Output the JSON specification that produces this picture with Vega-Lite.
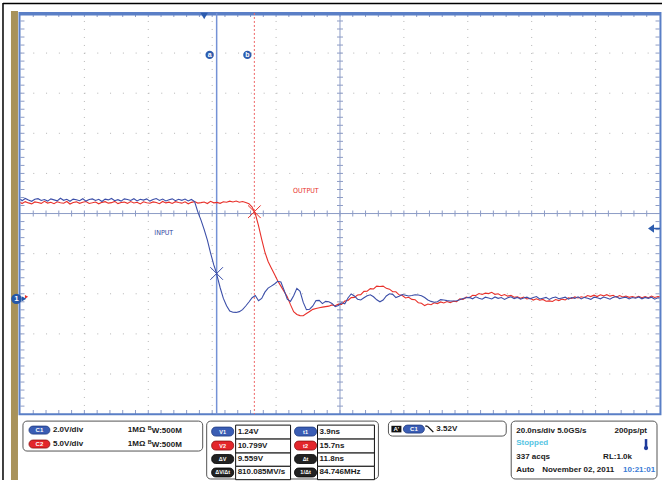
{
"$schema": "https://vega.github.io/schema/vega-lite/v6.json",
"width": 663, "height": 481, "padding": 0,
"autosize": {"type": "fit", "contains": "padding"},
"background": "#ffffff",
"config": {"view": {"stroke": null}, "axis": {"disable": true}},
"datasets": {
"grid": [{"i":0,"t":-57.5,"d":-5},{"i":1,"t":-53.5,"d":-4.8},{"i":2,"t":-49.5,"d":-4.6},{"i":3,"t":-45.5,"d":-4.4},{"i":4,"t":-41.5,"d":-4.2},{"i":5,"t":-37.5,"d":-4},{"i":6,"t":-33.5,"d":-3.8},{"i":7,"t":-29.5,"d":-3.6},{"i":8,"t":-25.5,"d":-3.4},{"i":9,"t":-21.5,"d":-3.2},{"i":10,"t":-17.5,"d":-3},{"i":11,"t":-13.5,"d":-2.8},{"i":12,"t":-9.5,"d":-2.6},{"i":13,"t":-5.5,"d":-2.4},{"i":14,"t":-1.5,"d":-2.2},{"i":15,"t":2.5,"d":-2},{"i":16,"t":6.5,"d":-1.8},{"i":17,"t":10.5,"d":-1.6},{"i":18,"t":14.5,"d":-1.4},{"i":19,"t":18.5,"d":-1.2},{"i":20,"t":22.5,"d":-1},{"i":21,"t":26.5,"d":-0.8},{"i":22,"t":30.5,"d":-0.6},{"i":23,"t":34.5,"d":-0.4},{"i":24,"t":38.5,"d":-0.2},{"i":25,"t":42.5,"d":0},{"i":26,"t":46.5,"d":0.2},{"i":27,"t":50.5,"d":0.4},{"i":28,"t":54.5,"d":0.6},{"i":29,"t":58.5,"d":0.8},{"i":30,"t":62.5,"d":1},{"i":31,"t":66.5,"d":1.2},{"i":32,"t":70.5,"d":1.4},{"i":33,"t":74.5,"d":1.6},{"i":34,"t":78.5,"d":1.8},{"i":35,"t":82.5,"d":2},{"i":36,"t":86.5,"d":2.2},{"i":37,"t":90.5,"d":2.4},{"i":38,"t":94.5,"d":2.6},{"i":39,"t":98.5,"d":2.8},{"i":40,"t":102.5,"d":3},{"i":41,"t":106.5,"d":3.2},{"i":42,"t":110.5,"d":3.4},{"i":43,"t":114.5,"d":3.6},{"i":44,"t":118.5,"d":3.8},{"i":45,"t":122.5,"d":4},{"i":46,"t":126.5,"d":4.2},{"i":47,"t":130.5,"d":4.4},{"i":48,"t":134.5,"d":4.6},{"i":49,"t":138.5,"d":4.8},{"i":50,"t":142.5,"d":5}],
"ch1": [{"t":-57.5,"v":4.95},{"t":-57,"v":4.87},{"t":-56,"v":4.98},{"t":-55,"v":4.90},{"t":-54,"v":4.84},{"t":-53,"v":4.94},{"t":-52,"v":4.97},{"t":-51,"v":4.88},{"t":-50,"v":4.93},{"t":-49,"v":4.85},{"t":-48,"v":4.96},{"t":-47,"v":4.91},{"t":-46,"v":4.86},{"t":-45,"v":4.99},{"t":-44,"v":4.89},{"t":-43,"v":4.94},{"t":-42,"v":4.84},{"t":-41,"v":4.95},{"t":-40,"v":4.92},{"t":-39,"v":4.87},{"t":-38,"v":4.97},{"t":-37,"v":4.85},{"t":-36,"v":4.93},{"t":-35,"v":4.96},{"t":-34,"v":4.88},{"t":-33,"v":4.94},{"t":-32,"v":4.83},{"t":-31,"v":4.95},{"t":-30,"v":4.91},{"t":-29,"v":4.98},{"t":-28,"v":4.87},{"t":-27,"v":4.92},{"t":-26,"v":4.85},{"t":-25,"v":4.96},{"t":-24,"v":4.93},{"t":-23,"v":4.88},{"t":-22,"v":4.97},{"t":-21,"v":4.86},{"t":-20,"v":4.94},{"t":-19,"v":4.90},{"t":-18,"v":4.96},{"t":-17,"v":4.85},{"t":-16,"v":4.93},{"t":-15,"v":4.98},{"t":-14,"v":4.88},{"t":-13,"v":4.95},{"t":-12,"v":4.86},{"t":-11,"v":4.92},{"t":-10,"v":4.96},{"t":-9,"v":4.87},{"t":-8,"v":4.94},{"t":-7,"v":4.89},{"t":-6,"v":4.95},{"t":-5,"v":4.86},{"t":-4,"v":4.93},{"t":-3,"v":4.83},{"t":-2,"v":4.31},{"t":-1,"v":3.90},{"t":0,"v":3.43},{"t":1,"v":2.90},{"t":2,"v":2.26},{"t":3,"v":1.67},{"t":3.9,"v":1.24},{"t":4,"v":1.15},{"t":5,"v":0.53},{"t":6,"v":0.0},{"t":7,"v":-0.37},{"t":8,"v":-0.63},{"t":9,"v":-0.69},{"t":10,"v":-0.70},{"t":11,"v":-0.66},{"t":12,"v":-0.56},{"t":13,"v":-0.38},{"t":14,"v":-0.18},{"t":15,"v":0.03},{"t":16,"v":0.14},{"t":17,"v":-0.12},{"t":18,"v":0.0},{"t":19,"v":0.31},{"t":20,"v":0.51},{"t":21,"v":0.61},{"t":22,"v":0.72},{"t":23,"v":0.85},{"t":24,"v":0.82},{"t":25,"v":0.41},{"t":26,"v":-0.04},{"t":27,"v":-0.15},{"t":28,"v":0.13},{"t":29,"v":0.50},{"t":30,"v":0.35},{"t":31,"v":-0.20},{"t":32,"v":-0.56},{"t":33,"v":-0.54},{"t":34,"v":-0.38},{"t":35,"v":-0.11},{"t":36,"v":-0.10},{"t":37,"v":-0.26},{"t":38,"v":-0.15},{"t":39,"v":-0.17},{"t":40,"v":-0.25},{"t":41,"v":-0.41},{"t":42,"v":-0.35},{"t":43,"v":-0.22},{"t":44,"v":-0.27},{"t":45,"v":0.02},{"t":46,"v":0.22},{"t":47,"v":0.12},{"t":48,"v":-0.04},{"t":49,"v":-0.08},{"t":50,"v":0.03},{"t":51,"v":0.13},{"t":52,"v":0.18},{"t":53,"v":0.08},{"t":54,"v":-0.07},{"t":55,"v":-0.17},{"t":56,"v":-0.08},{"t":57,"v":0.12},{"t":58,"v":0.23},{"t":59,"v":0.20},{"t":60,"v":0.04},{"t":61,"v":0.11},{"t":62,"v":0.19},{"t":63,"v":0.16},{"t":64,"v":0.12},{"t":65,"v":0.14},{"t":66,"v":0.18},{"t":67,"v":0.17},{"t":68,"v":0.13},{"t":69,"v":0.04},{"t":70,"v":-0.08},{"t":71,"v":-0.15},{"t":72,"v":-0.19},{"t":73,"v":-0.17},{"t":74,"v":-0.06},{"t":75,"v":-0.08},{"t":76,"v":-0.11},{"t":77,"v":-0.13},{"t":78,"v":-0.13},{"t":79,"v":-0.12},{"t":80,"v":-0.07},{"t":81,"v":-0.01},{"t":82,"v":0.03},{"t":83,"v":0.05},{"t":84,"v":-0.02},{"t":85,"v":0.08},{"t":86,"v":0.01},{"t":87,"v":-0.04},{"t":88,"v":0.06},{"t":89,"v":0.02},{"t":90,"v":-0.03},{"t":91,"v":0.07},{"t":92,"v":0.00},{"t":93,"v":0.04},{"t":94,"v":-0.05},{"t":95,"v":0.03},{"t":96,"v":0.08},{"t":97,"v":-0.01},{"t":98,"v":0.05},{"t":99,"v":-0.04},{"t":100,"v":0.02},{"t":101,"v":0.06},{"t":102,"v":-0.02},{"t":103,"v":0.04},{"t":104,"v":0.09},{"t":105,"v":-0.03},{"t":106,"v":0.01},{"t":107,"v":0.05},{"t":108,"v":-0.05},{"t":109,"v":0.03},{"t":110,"v":0.07},{"t":111,"v":-0.02},{"t":112,"v":0.02},{"t":113,"v":0.06},{"t":114,"v":-0.04},{"t":115,"v":0.04},{"t":116,"v":0.00},{"t":117,"v":0.08},{"t":118,"v":-0.03},{"t":119,"v":0.05},{"t":120,"v":0.01},{"t":121,"v":-0.05},{"t":122,"v":0.06},{"t":123,"v":0.03},{"t":124,"v":-0.02},{"t":125,"v":0.07},{"t":126,"v":0.02},{"t":127,"v":-0.04},{"t":128,"v":0.05},{"t":129,"v":0.09},{"t":130,"v":-0.01},{"t":131,"v":0.03},{"t":132,"v":0.06},{"t":133,"v":-0.03},{"t":134,"v":0.04},{"t":135,"v":0.01},{"t":136,"v":0.07},{"t":137,"v":-0.02},{"t":138,"v":0.05},{"t":139,"v":0.00},{"t":140,"v":0.06},{"t":141,"v":-0.04},{"t":142,"v":0.03},{"t":142.5,"v":0.02}],
"ch2": [{"t":-57.5,"v":11.94},{"t":-57,"v":11.82},{"t":-56,"v":12.06},{"t":-55,"v":11.90},{"t":-54,"v":11.78},{"t":-53,"v":12.02},{"t":-52,"v":11.96},{"t":-51,"v":11.84},{"t":-50,"v":12.10},{"t":-49,"v":11.88},{"t":-48,"v":11.98},{"t":-47,"v":11.80},{"t":-46,"v":12.04},{"t":-45,"v":11.92},{"t":-44,"v":11.86},{"t":-43,"v":12.08},{"t":-42,"v":11.76},{"t":-41,"v":11.95},{"t":-40,"v":12.03},{"t":-39,"v":11.85},{"t":-38,"v":11.99},{"t":-37,"v":12.07},{"t":-36,"v":11.83},{"t":-35,"v":11.91},{"t":-34,"v":12.01},{"t":-33,"v":11.79},{"t":-32,"v":11.97},{"t":-31,"v":12.05},{"t":-30,"v":11.87},{"t":-29,"v":11.93},{"t":-28,"v":12.09},{"t":-27,"v":11.81},{"t":-26,"v":11.96},{"t":-25,"v":12.00},{"t":-24,"v":11.84},{"t":-23,"v":12.06},{"t":-22,"v":11.89},{"t":-21,"v":11.98},{"t":-20,"v":11.77},{"t":-19,"v":12.04},{"t":-18,"v":11.92},{"t":-17,"v":11.86},{"t":-16,"v":12.02},{"t":-15,"v":11.95},{"t":-14,"v":11.80},{"t":-13,"v":12.08},{"t":-12,"v":11.90},{"t":-11,"v":11.99},{"t":-10,"v":11.83},{"t":-9,"v":12.05},{"t":-8,"v":11.94},{"t":-7,"v":11.87},{"t":-6,"v":12.03},{"t":-5,"v":11.79},{"t":-4,"v":11.97},{"t":-3,"v":12.06},{"t":-2,"v":11.88},{"t":-1,"v":11.93},{"t":0,"v":12.01},{"t":1,"v":11.82},{"t":2,"v":12.10},{"t":3,"v":11.91},{"t":4,"v":11.96},{"t":5,"v":11.85},{"t":6,"v":12.04},{"t":7,"v":11.98},{"t":8,"v":12.12},{"t":9,"v":12.02},{"t":10,"v":12.14},{"t":11,"v":11.99},{"t":12,"v":12.08},{"t":13,"v":11.95},{"t":14,"v":11.80},{"t":15,"v":11.38},{"t":15.7,"v":10.80},{"t":16,"v":10.55},{"t":17,"v":9.08},{"t":18,"v":7.35},{"t":19,"v":5.77},{"t":20,"v":4.59},{"t":21,"v":3.79},{"t":22,"v":3.00},{"t":23,"v":2.20},{"t":24,"v":1.53},{"t":25,"v":0.87},{"t":26,"v":0.21},{"t":27,"v":-0.78},{"t":28,"v":-1.67},{"t":29,"v":-2.00},{"t":30,"v":-2.15},{"t":31,"v":-2.16},{"t":32,"v":-1.89},{"t":33,"v":-1.63},{"t":34,"v":-1.37},{"t":35,"v":-1.27},{"t":36,"v":-1.17},{"t":37,"v":-1.09},{"t":38,"v":-1.03},{"t":39,"v":-0.97},{"t":40,"v":-0.81},{"t":41,"v":-0.92},{"t":42,"v":-0.72},{"t":43,"v":-0.74},{"t":44,"v":-0.33},{"t":45,"v":-0.26},{"t":46,"v":0.09},{"t":47,"v":0.12},{"t":48,"v":0.42},{"t":49,"v":0.47},{"t":50,"v":0.87},{"t":51,"v":0.89},{"t":52,"v":1.21},{"t":53,"v":1.17},{"t":54,"v":1.52},{"t":55,"v":1.48},{"t":56,"v":1.53},{"t":57,"v":1.25},{"t":58,"v":1.15},{"t":59,"v":0.82},{"t":60,"v":0.82},{"t":61,"v":0.44},{"t":62,"v":0.36},{"t":63,"v":0.05},{"t":64,"v":0.13},{"t":65,"v":-0.13},{"t":66,"v":-0.16},{"t":67,"v":-0.54},{"t":68,"v":-0.60},{"t":69,"v":-0.90},{"t":70,"v":-0.71},{"t":71,"v":-0.79},{"t":72,"v":-0.55},{"t":73,"v":-0.65},{"t":74,"v":-0.44},{"t":75,"v":-0.57},{"t":76,"v":-0.40},{"t":77,"v":-0.52},{"t":78,"v":-0.36},{"t":79,"v":-0.41},{"t":80,"v":-0.07},{"t":81,"v":-0.12},{"t":82,"v":0.15},{"t":83,"v":0.08},{"t":84,"v":0.39},{"t":85,"v":0.36},{"t":86,"v":0.60},{"t":87,"v":0.49},{"t":88,"v":0.65},{"t":89,"v":0.60},{"t":90,"v":0.76},{"t":91,"v":0.50},{"t":92,"v":0.57},{"t":93,"v":0.33},{"t":94,"v":0.48},{"t":95,"v":0.28},{"t":96,"v":0.37},{"t":97,"v":0.14},{"t":98,"v":0.19},{"t":99,"v":0.01},{"t":100,"v":0.16},{"t":101,"v":-0.07},{"t":102,"v":0.01},{"t":103,"v":-0.21},{"t":104,"v":-0.05},{"t":105,"v":-0.23},{"t":106,"v":-0.13},{"t":107,"v":-0.36},{"t":108,"v":-0.31},{"t":109,"v":-0.39},{"t":110,"v":-0.14},{"t":111,"v":-0.27},{"t":112,"v":-0.09},{"t":113,"v":-0.20},{"t":114,"v":0.06},{"t":115,"v":-0.02},{"t":116,"v":0.18},{"t":117,"v":0.05},{"t":118,"v":0.20},{"t":119,"v":0.11},{"t":120,"v":0.36},{"t":121,"v":0.22},{"t":122,"v":0.40},{"t":123,"v":0.23},{"t":124,"v":0.44},{"t":125,"v":0.31},{"t":126,"v":0.46},{"t":127,"v":0.28},{"t":128,"v":0.38},{"t":129,"v":0.15},{"t":130,"v":0.35},{"t":131,"v":0.17},{"t":132,"v":0.30},{"t":133,"v":0.13},{"t":134,"v":0.24},{"t":135,"v":0.11},{"t":136,"v":0.26},{"t":137,"v":0.08},{"t":138,"v":0.22},{"t":139,"v":0.09},{"t":140,"v":0.29},{"t":141,"v":0.11},{"t":142,"v":0.24},{"t":142.5,"v":0.19}]
},
"resolve": {"scale": {"y": "independent"}},
"layer": [
{
"data": {"values": [{}]},
"layer": [
{"mark": {"type": "rect", "color": "#a8925a"}, "encoding": {"x": {"datum": -60.47, "type": "quantitative", "scale": {"domain": [-63.906, 143.281], "nice": false, "zero": false}}, "x2": {"datum": -58.28}, "y": {"datum": 5.05, "type": "quantitative", "scale": {"domain": [-6.642, 5.323], "nice": false, "zero": false}}, "y2": {"datum": -6.642}}},
{"mark": {"type": "rule", "color": "#000000", "strokeWidth": 1.5}, "encoding": {"x": {"datum": -62.97}, "y": {"datum": 5.25}, "y2": {"datum": -6.642}}},
{"mark": {"type": "rule", "color": "#000000", "strokeWidth": 1.5}, "encoding": {"x": {"datum": -62.97}, "x2": {"datum": 143.281}, "y": {"datum": 5.237}}},
{"data": {"name": "grid"}, "transform": [{"filter": "datum.i % 5 == 0 && datum.i > 0 && datum.i < 50 && datum.i != 25"}], "mark": {"type": "rule", "color": "#b5b5b5", "strokeWidth": 1, "strokeDash": [1, 7]}, "encoding": {"x": {"field": "t", "type": "quantitative"}, "y": {"datum": 5}, "y2": {"datum": -5}}},
{"data": {"name": "grid"}, "transform": [{"filter": "datum.i % 5 == 0 && datum.i > 0 && datum.i < 50 && datum.i != 25"}], "mark": {"type": "rule", "color": "#b5b5b5", "strokeWidth": 1, "strokeDash": [1, 11.8]}, "encoding": {"y": {"field": "d", "type": "quantitative"}, "x": {"datum": -57.5}, "x2": {"datum": 142.5}}},
{"mark": {"type": "rule", "color": "#8d9cc6", "strokeWidth": 1}, "encoding": {"x": {"datum": 42.5}, "y": {"datum": 5}, "y2": {"datum": -5}}},
{"mark": {"type": "rule", "color": "#8d9cc6", "strokeWidth": 1}, "encoding": {"y": {"datum": 0}, "x": {"datum": -57.5}, "x2": {"datum": 142.5}}},
{"data": {"name": "grid"}, "transform": [{"filter": "datum.i > 0 && datum.i < 50"}], "mark": {"type": "tick", "orient": "vertical", "size": 6, "thickness": 1, "color": "#8d9cc6", "opacity": 1}, "encoding": {"x": {"field": "t", "type": "quantitative"}, "y": {"datum": 0}}},
{"data": {"name": "grid"}, "transform": [{"filter": "datum.i > 0 && datum.i < 50"}], "mark": {"type": "tick", "orient": "horizontal", "size": 6, "thickness": 1, "color": "#8d9cc6", "opacity": 1}, "encoding": {"y": {"field": "d", "type": "quantitative"}, "x": {"datum": 42.5}}},
{"data": {"name": "grid"}, "transform": [{"filter": "datum.i > 0 && datum.i < 50"}], "mark": {"type": "tick", "orient": "vertical", "size": 4, "thickness": 1, "color": "#8d9cc6", "opacity": 1}, "encoding": {"x": {"field": "t", "type": "quantitative"}, "y": {"datum": 4.95}}},
{"data": {"name": "grid"}, "transform": [{"filter": "datum.i > 0 && datum.i < 50"}], "mark": {"type": "tick", "orient": "vertical", "size": 4, "thickness": 1, "color": "#8d9cc6", "opacity": 1}, "encoding": {"x": {"field": "t", "type": "quantitative"}, "y": {"datum": -4.95}}},
{"data": {"name": "grid"}, "transform": [{"filter": "datum.i > 0 && datum.i < 50"}], "mark": {"type": "tick", "orient": "horizontal", "size": 4, "thickness": 1, "color": "#8d9cc6", "opacity": 1}, "encoding": {"y": {"field": "d", "type": "quantitative"}, "x": {"datum": -56.875}}},
{"data": {"name": "grid"}, "transform": [{"filter": "datum.i > 0 && datum.i < 50"}], "mark": {"type": "tick", "orient": "horizontal", "size": 4, "thickness": 1, "color": "#8d9cc6", "opacity": 1}, "encoding": {"y": {"field": "d", "type": "quantitative"}, "x": {"datum": 141.875}}},
{"mark": {"type": "rect", "fillOpacity": 0, "stroke": "#5a7fc6", "strokeWidth": 2}, "encoding": {"x": {"datum": -57.8}, "x2": {"datum": 142.8}, "y": {"datum": 5.0}, "y2": {"datum": -5.0}}},
{"mark": {"type": "rule", "color": "#5a7fc6", "strokeWidth": 3}, "encoding": {"y": {"datum": 4.975}, "x": {"datum": -57.8}, "x2": {"datum": 142.8}}},
{"mark": {"type": "rule", "color": "#7592d6", "strokeWidth": 1.5}, "encoding": {"x": {"datum": 3.9}, "y": {"datum": 5}, "y2": {"datum": -5}}},
{"mark": {"type": "rule", "color": "#ee6666", "strokeWidth": 1, "strokeDash": [2, 2]}, "encoding": {"x": {"datum": 15.7}, "y": {"datum": 5}, "y2": {"datum": -5}}},
{"mark": {"type": "point", "shape": "circle", "filled": true, "color": "#2d5cae", "size": 70, "opacity": 1, "xOffset": -7}, "encoding": {"x": {"datum": 3.9}, "y": {"datum": 3.955}}},
{"mark": {"type": "point", "shape": "circle", "filled": true, "color": "#2d5cae", "size": 70, "opacity": 1, "xOffset": -7}, "encoding": {"x": {"datum": 15.7}, "y": {"datum": 3.955}}},
{"mark": {"type": "text", "text": "a", "color": "#ffffff", "font": "Liberation Sans", "fontWeight": "bold", "fontSize": 7, "align": "center", "baseline": "middle", "xOffset": -7}, "encoding": {"x": {"datum": 3.9}, "y": {"datum": 3.955}}},
{"mark": {"type": "text", "text": "b", "color": "#ffffff", "font": "Liberation Sans", "fontWeight": "bold", "fontSize": 7, "align": "center", "baseline": "middle", "xOffset": -7}, "encoding": {"x": {"datum": 15.7}, "y": {"datum": 3.955}}},
{"mark": {"type": "point", "shape": "triangle-down", "filled": true, "color": "#2d5cae", "size": 55, "opacity": 1}, "encoding": {"x": {"datum": 0}, "y": {"datum": 4.925}}},
{"mark": {"type": "point", "shape": "M-1,0L0,-0.7L0,0.7Z M0,-0.12L1,-0.12L1,0.12L0,0.12Z", "filled": true, "color": "#2d5cae", "size": 144, "opacity": 1}, "encoding": {"x": {"datum": 140.78}, "y": {"datum": -0.373}}},
{"mark": {"type": "point", "shape": "triangle-right", "filled": true, "color": "#e8302a", "size": 14, "opacity": 1}, "encoding": {"x": {"datum": -55.6}, "y": {"datum": -2.077}}},
{"mark": {"type": "point", "shape": "triangle-right", "filled": true, "color": "#2557a8", "size": 30, "opacity": 1}, "encoding": {"x": {"datum": -56.4}, "y": {"datum": -2.127}}},
{"mark": {"type": "point", "shape": "circle", "filled": true, "color": "#2557a8", "size": 110, "opacity": 1}, "encoding": {"x": {"datum": -58.75}, "y": {"datum": -2.127}}},
{"mark": {"type": "text", "text": "1", "color": "#ffffff", "font": "Liberation Sans", "fontWeight": "bold", "fontSize": 8, "align": "center", "baseline": "middle"}, "encoding": {"x": {"datum": -58.75}, "y": {"datum": -2.127}}},
{"mark": {"type": "text", "text": "OUTPUT", "color": "#e8302a", "font": "DejaVu Sans Condensed, Liberation Sans", "fontSize": 7, "align": "center", "baseline": "middle"}, "encoding": {"x": {"datum": 31.8}, "y": {"datum": 0.572}}},
{"mark": {"type": "text", "text": "INPUT", "color": "#2f45a0", "font": "DejaVu Sans Condensed, Liberation Sans", "fontSize": 7, "align": "center", "baseline": "middle"}, "encoding": {"x": {"datum": -12.66}, "y": {"datum": -0.473}}},

{"mark": {"type": "rect", "fill": "#ffffff", "stroke": "#555555", "strokeWidth": 1, "cornerRadius": 4}, "encoding": {"x": {"datum": -56.72}, "x2": {"datum": -0.47}, "y": {"datum": -5.174}, "y2": {"datum": -5.920}}},
{"mark": {"type": "rect", "fill": "#ffffff", "stroke": "#555555", "strokeWidth": 1, "cornerRadius": 4}, "encoding": {"x": {"datum": 0.78}, "x2": {"datum": 54.53}, "y": {"datum": -5.174}, "y2": {"datum": -6.617}}},
{"mark": {"type": "rect", "fill": "#ffffff", "stroke": "#555555", "strokeWidth": 1, "cornerRadius": 4}, "encoding": {"x": {"datum": 57.66}, "x2": {"datum": 94.53}, "y": {"datum": -5.174}, "y2": {"datum": -5.547}}},
{"mark": {"type": "rect", "fill": "#ffffff", "stroke": "#555555", "strokeWidth": 1, "cornerRadius": 4}, "encoding": {"x": {"datum": 96.09}, "x2": {"datum": 141.72}, "y": {"datum": -5.174}, "y2": {"datum": -6.617}}},

{"mark": {"type": "rect", "fill": "#3a5db4", "stroke": "#1e3a80", "strokeWidth": 0.8, "cornerRadius": 4}, "encoding": {"x": {"datum": -54.84}, "x2": {"datum": -48.28}, "y": {"datum": -5.298}, "y2": {"datum": -5.498}}},
{"mark": {"type": "rect", "fill": "#e3262b", "stroke": "#8a1010", "strokeWidth": 0.8, "cornerRadius": 4}, "encoding": {"x": {"datum": -54.84}, "x2": {"datum": -48.28}, "y": {"datum": -5.646}, "y2": {"datum": -5.846}}},
{"mark": {"type": "text", "text": "C1", "color": "#ffffff", "font": "Liberation Sans", "fontWeight": "bold", "fontSize": 6, "align": "center", "baseline": "middle"}, "encoding": {"x": {"datum": -51.56}, "y": {"datum": -5.398}}},
{"mark": {"type": "text", "text": "C2", "color": "#ffffff", "font": "Liberation Sans", "fontWeight": "bold", "fontSize": 6, "align": "center", "baseline": "middle"}, "encoding": {"x": {"datum": -51.56}, "y": {"datum": -5.746}}},
{"mark": {"type": "text", "text": "2.0V/div", "color": "#1a1a1a", "font": "Liberation Sans", "fontWeight": "bold", "fontSize": 8, "align": "left", "baseline": "middle"}, "encoding": {"x": {"datum": -47.34}, "y": {"datum": -5.398}}},
{"mark": {"type": "text", "text": "5.0V/div", "color": "#1a1a1a", "font": "Liberation Sans", "fontWeight": "bold", "fontSize": 8, "align": "left", "baseline": "middle"}, "encoding": {"x": {"datum": -47.34}, "y": {"datum": -5.746}}},
{"mark": {"type": "text", "text": "1MΩ", "color": "#1a1a1a", "font": "Liberation Sans", "fontWeight": "bold", "fontSize": 8, "align": "left", "baseline": "middle"}, "encoding": {"x": {"datum": -23.9}, "y": {"datum": -5.398}}},
{"mark": {"type": "text", "text": "1MΩ", "color": "#1a1a1a", "font": "Liberation Sans", "fontWeight": "bold", "fontSize": 8, "align": "left", "baseline": "middle"}, "encoding": {"x": {"datum": -23.9}, "y": {"datum": -5.746}}},
{"mark": {"type": "text", "text": "B", "color": "#1a1a1a", "font": "Liberation Sans", "fontWeight": "bold", "fontSize": 5.5, "align": "left", "baseline": "middle", "dy": -2}, "encoding": {"x": {"datum": -17.66}, "y": {"datum": -5.398}}},
{"mark": {"type": "text", "text": "B", "color": "#1a1a1a", "font": "Liberation Sans", "fontWeight": "bold", "fontSize": 5.5, "align": "left", "baseline": "middle", "dy": -2}, "encoding": {"x": {"datum": -17.66}, "y": {"datum": -5.746}}},
{"mark": {"type": "text", "text": "W:500M", "color": "#1a1a1a", "font": "Liberation Sans", "fontWeight": "bold", "fontSize": 8, "align": "left", "baseline": "middle", "dy": 1}, "encoding": {"x": {"datum": -16.4}, "y": {"datum": -5.398}}},
{"mark": {"type": "text", "text": "W:500M", "color": "#1a1a1a", "font": "Liberation Sans", "fontWeight": "bold", "fontSize": 8, "align": "left", "baseline": "middle", "dy": 1}, "encoding": {"x": {"datum": -16.4}, "y": {"datum": -5.746}}},

{"mark": {"type": "rect", "fill": "#3a5db4", "stroke": "#1e3a80", "strokeWidth": 0.8, "cornerRadius": 4}, "encoding": {"x": {"datum": 2.34}, "x2": {"datum": 9.22}, "y": {"datum": -5.323}, "y2": {"datum": -5.547}}},
{"mark": {"type": "rect", "fill": "#e3262b", "stroke": "#8a1010", "strokeWidth": 0.8, "cornerRadius": 4}, "encoding": {"x": {"datum": 2.34}, "x2": {"datum": 9.22}, "y": {"datum": -5.672}, "y2": {"datum": -5.896}}},
{"mark": {"type": "rect", "fill": "#222222", "stroke": "#000000", "strokeWidth": 0.8, "cornerRadius": 4}, "encoding": {"x": {"datum": 2.34}, "x2": {"datum": 9.22}, "y": {"datum": -6.007}, "y2": {"datum": -6.231}}},
{"mark": {"type": "rect", "fill": "#222222", "stroke": "#000000", "strokeWidth": 0.8, "cornerRadius": 4}, "encoding": {"x": {"datum": 2.34}, "x2": {"datum": 9.22}, "y": {"datum": -6.343}, "y2": {"datum": -6.567}}},
{"mark": {"type": "rect", "fill": "#3a5db4", "stroke": "#1e3a80", "strokeWidth": 0.8, "cornerRadius": 4}, "encoding": {"x": {"datum": 28.28}, "x2": {"datum": 35.16}, "y": {"datum": -5.323}, "y2": {"datum": -5.547}}},
{"mark": {"type": "rect", "fill": "#e3262b", "stroke": "#8a1010", "strokeWidth": 0.8, "cornerRadius": 4}, "encoding": {"x": {"datum": 28.28}, "x2": {"datum": 35.16}, "y": {"datum": -5.672}, "y2": {"datum": -5.896}}},
{"mark": {"type": "rect", "fill": "#222222", "stroke": "#000000", "strokeWidth": 0.8, "cornerRadius": 4}, "encoding": {"x": {"datum": 28.28}, "x2": {"datum": 35.16}, "y": {"datum": -6.007}, "y2": {"datum": -6.231}}},
{"mark": {"type": "rect", "fill": "#222222", "stroke": "#000000", "strokeWidth": 0.8, "cornerRadius": 4}, "encoding": {"x": {"datum": 28.28}, "x2": {"datum": 35.16}, "y": {"datum": -6.343}, "y2": {"datum": -6.567}}},
{"mark": {"type": "text", "text": "V1", "color": "#ffffff", "font": "Liberation Sans", "fontWeight": "bold", "fontSize": 5.5, "align": "center", "baseline": "middle"}, "encoding": {"x": {"datum": 5.78}, "y": {"datum": -5.435}}},
{"mark": {"type": "text", "text": "V2", "color": "#ffffff", "font": "Liberation Sans", "fontWeight": "bold", "fontSize": 5.5, "align": "center", "baseline": "middle"}, "encoding": {"x": {"datum": 5.78}, "y": {"datum": -5.784}}},
{"mark": {"type": "text", "text": "ΔV", "color": "#ffffff", "font": "Liberation Sans", "fontWeight": "bold", "fontSize": 5.5, "align": "center", "baseline": "middle"}, "encoding": {"x": {"datum": 5.78}, "y": {"datum": -6.119}}},
{"mark": {"type": "text", "text": "ΔV/Δt", "color": "#ffffff", "font": "Liberation Sans", "fontWeight": "bold", "fontSize": 5.5, "align": "center", "baseline": "middle"}, "encoding": {"x": {"datum": 5.78}, "y": {"datum": -6.455}}},
{"mark": {"type": "text", "text": "t1", "color": "#ffffff", "font": "Liberation Sans", "fontWeight": "bold", "fontSize": 5.5, "align": "center", "baseline": "middle"}, "encoding": {"x": {"datum": 31.72}, "y": {"datum": -5.435}}},
{"mark": {"type": "text", "text": "t2", "color": "#ffffff", "font": "Liberation Sans", "fontWeight": "bold", "fontSize": 5.5, "align": "center", "baseline": "middle"}, "encoding": {"x": {"datum": 31.72}, "y": {"datum": -5.784}}},
{"mark": {"type": "text", "text": "Δt", "color": "#ffffff", "font": "Liberation Sans", "fontWeight": "bold", "fontSize": 5.5, "align": "center", "baseline": "middle"}, "encoding": {"x": {"datum": 31.72}, "y": {"datum": -6.119}}},
{"mark": {"type": "text", "text": "1/Δt", "color": "#ffffff", "font": "Liberation Sans", "fontWeight": "bold", "fontSize": 5.5, "align": "center", "baseline": "middle"}, "encoding": {"x": {"datum": 31.72}, "y": {"datum": -6.455}}},

{"mark": {"type": "rect", "fill": "#ffffff", "stroke": "#111111", "strokeWidth": 1}, "encoding": {"x": {"datum": 9.84}, "x2": {"datum": 27.03}, "y": {"datum": -5.274}, "y2": {"datum": -5.622}}},
{"mark": {"type": "rect", "fill": "#ffffff", "stroke": "#111111", "strokeWidth": 1}, "encoding": {"x": {"datum": 9.84}, "x2": {"datum": 27.03}, "y": {"datum": -5.622}, "y2": {"datum": -5.970}}},
{"mark": {"type": "rect", "fill": "#ffffff", "stroke": "#111111", "strokeWidth": 1}, "encoding": {"x": {"datum": 9.84}, "x2": {"datum": 27.03}, "y": {"datum": -5.970}, "y2": {"datum": -6.301}}},
{"mark": {"type": "rect", "fill": "#ffffff", "stroke": "#111111", "strokeWidth": 1}, "encoding": {"x": {"datum": 9.84}, "x2": {"datum": 27.03}, "y": {"datum": -6.301}, "y2": {"datum": -6.634}}},
{"mark": {"type": "rect", "fill": "#ffffff", "stroke": "#111111", "strokeWidth": 1}, "encoding": {"x": {"datum": 35.47}, "x2": {"datum": 53.28}, "y": {"datum": -5.274}, "y2": {"datum": -5.622}}},
{"mark": {"type": "rect", "fill": "#ffffff", "stroke": "#111111", "strokeWidth": 1}, "encoding": {"x": {"datum": 35.47}, "x2": {"datum": 53.28}, "y": {"datum": -5.622}, "y2": {"datum": -5.970}}},
{"mark": {"type": "rect", "fill": "#ffffff", "stroke": "#111111", "strokeWidth": 1}, "encoding": {"x": {"datum": 35.47}, "x2": {"datum": 53.28}, "y": {"datum": -5.970}, "y2": {"datum": -6.301}}},
{"mark": {"type": "rect", "fill": "#ffffff", "stroke": "#111111", "strokeWidth": 1}, "encoding": {"x": {"datum": 35.47}, "x2": {"datum": 53.28}, "y": {"datum": -6.301}, "y2": {"datum": -6.634}}},
{"mark": {"type": "text", "text": "1.24V", "color": "#1a1a1a", "font": "Liberation Sans", "fontWeight": "bold", "fontSize": 8, "align": "left", "baseline": "middle"}, "encoding": {"x": {"datum": 10.47}, "y": {"datum": -5.435}}},
{"mark": {"type": "text", "text": "10.799V", "color": "#1a1a1a", "font": "Liberation Sans", "fontWeight": "bold", "fontSize": 8, "align": "left", "baseline": "middle"}, "encoding": {"x": {"datum": 10.47}, "y": {"datum": -5.784}}},
{"mark": {"type": "text", "text": "9.559V", "color": "#1a1a1a", "font": "Liberation Sans", "fontWeight": "bold", "fontSize": 8, "align": "left", "baseline": "middle"}, "encoding": {"x": {"datum": 10.47}, "y": {"datum": -6.119}}},
{"mark": {"type": "text", "text": "810.085MV/s", "color": "#1a1a1a", "font": "Liberation Sans", "fontWeight": "bold", "fontSize": 8, "align": "left", "baseline": "middle"}, "encoding": {"x": {"datum": 10.47}, "y": {"datum": -6.455}}},
{"mark": {"type": "text", "text": "3.9ns", "color": "#1a1a1a", "font": "Liberation Sans", "fontWeight": "bold", "fontSize": 8, "align": "left", "baseline": "middle"}, "encoding": {"x": {"datum": 36.09}, "y": {"datum": -5.435}}},
{"mark": {"type": "text", "text": "15.7ns", "color": "#1a1a1a", "font": "Liberation Sans", "fontWeight": "bold", "fontSize": 8, "align": "left", "baseline": "middle"}, "encoding": {"x": {"datum": 36.09}, "y": {"datum": -5.784}}},
{"mark": {"type": "text", "text": "11.8ns", "color": "#1a1a1a", "font": "Liberation Sans", "fontWeight": "bold", "fontSize": 8, "align": "left", "baseline": "middle"}, "encoding": {"x": {"datum": 36.09}, "y": {"datum": -6.119}}},
{"mark": {"type": "text", "text": "84.746MHz", "color": "#1a1a1a", "font": "Liberation Sans", "fontWeight": "bold", "fontSize": 8, "align": "left", "baseline": "middle"}, "encoding": {"x": {"datum": 36.09}, "y": {"datum": -6.455}}},

{"mark": {"type": "rect", "fill": "#111111"}, "encoding": {"x": {"datum": 58.59}, "x2": {"datum": 61.72}, "y": {"datum": -5.291}, "y2": {"datum": -5.455}}},
{"mark": {"type": "text", "text": "A'", "color": "#ffffff", "font": "Liberation Sans", "fontWeight": "bold", "fontSize": 6, "align": "center", "baseline": "middle"}, "encoding": {"x": {"datum": 60.16}, "y": {"datum": -5.373}}},
{"mark": {"type": "rect", "fill": "#3a5db4", "stroke": "#1e3a80", "strokeWidth": 0.8, "cornerRadius": 4}, "encoding": {"x": {"datum": 62.34}, "x2": {"datum": 68.91}, "y": {"datum": -5.273}, "y2": {"datum": -5.473}}},
{"mark": {"type": "text", "text": "C1", "color": "#ffffff", "font": "Liberation Sans", "fontWeight": "bold", "fontSize": 6, "align": "center", "baseline": "middle"}, "encoding": {"x": {"datum": 65.63}, "y": {"datum": -5.373}}},
{"mark": {"type": "rule", "color": "#111111", "strokeWidth": 1.3}, "encoding": {"x": {"datum": 69.2}, "x2": {"datum": 69.84}, "y": {"datum": -5.299}, "y2": {"datum": -5.299}}},
{"mark": {"type": "rule", "color": "#111111", "strokeWidth": 1.3}, "encoding": {"x": {"datum": 69.84}, "x2": {"datum": 71.72}, "y": {"datum": -5.299}, "y2": {"datum": -5.448}}},
{"mark": {"type": "text", "text": "3.52V", "color": "#1a1a1a", "font": "Liberation Sans", "fontWeight": "bold", "fontSize": 8, "align": "left", "baseline": "middle"}, "encoding": {"x": {"datum": 72.66}, "y": {"datum": -5.373}}},

{"mark": {"type": "text", "text": "20.0ns/div  5.0GS/s", "color": "#1a1a1a", "font": "Liberation Sans", "fontWeight": "bold", "fontSize": 8, "align": "left", "baseline": "middle"}, "encoding": {"x": {"datum": 97.66}, "y": {"datum": -5.423}}},
{"mark": {"type": "text", "text": "200ps/pt", "color": "#1a1a1a", "font": "Liberation Sans", "fontWeight": "bold", "fontSize": 8, "align": "right", "baseline": "middle"}, "encoding": {"x": {"datum": 138.59}, "y": {"datum": -5.423}}},
{"mark": {"type": "text", "text": "Stopped", "color": "#56c5e3", "font": "Liberation Sans", "fontWeight": "bold", "fontSize": 8, "align": "left", "baseline": "middle"}, "encoding": {"x": {"datum": 97.66}, "y": {"datum": -5.721}}},
{"mark": {"type": "rule", "color": "#1d3a9b", "strokeWidth": 2.5}, "encoding": {"x": {"datum": 138.28}, "y": {"datum": -5.622}, "y2": {"datum": -5.821}}},
{"mark": {"type": "point", "shape": "circle", "filled": true, "color": "#1d3a9b", "size": 18, "opacity": 1}, "encoding": {"x": {"datum": 138.28}, "y": {"datum": -5.846}}},
{"mark": {"type": "text", "text": "337 acqs", "color": "#1a1a1a", "font": "Liberation Sans", "fontWeight": "bold", "fontSize": 8, "align": "left", "baseline": "middle"}, "encoding": {"x": {"datum": 97.66}, "y": {"datum": -6.07}}},
{"mark": {"type": "text", "text": "RL:1.0k", "color": "#1a1a1a", "font": "Liberation Sans", "fontWeight": "bold", "fontSize": 8, "align": "right", "baseline": "middle"}, "encoding": {"x": {"datum": 133.9}, "y": {"datum": -6.07}}},
{"mark": {"type": "text", "text": "Auto", "color": "#1a1a1a", "font": "Liberation Sans", "fontWeight": "bold", "fontSize": 8, "align": "left", "baseline": "middle"}, "encoding": {"x": {"datum": 97.66}, "y": {"datum": -6.393}}},
{"mark": {"type": "text", "text": "November 02, 2011", "color": "#1a1a1a", "font": "Liberation Sans", "fontWeight": "bold", "fontSize": 8, "align": "left", "baseline": "middle"}, "encoding": {"x": {"datum": 105.78}, "y": {"datum": -6.393}}},
{"mark": {"type": "text", "text": "10:21:01", "color": "#3a7bd5", "font": "Liberation Sans", "fontWeight": "bold", "fontSize": 8, "align": "left", "baseline": "middle"}, "encoding": {"x": {"datum": 131.1}, "y": {"datum": -6.393}}}
]
},
{
"data": {"name": "ch2"},
"layer": [
{"mark": {"type": "line", "color": "#e8302a", "strokeWidth": 1.1}, "encoding": {"x": {"field": "t", "type": "quantitative", "scale": {"domain": [-63.906, 143.281], "nice": false, "zero": false}}, "y": {"field": "v", "type": "quantitative", "scale": {"domain": [-22.637, 37.189], "nice": false, "zero": false}}}},
{"data": {"values": [{}]}, "mark": {"type": "point", "shape": "M-1,-1L1,1M-1,1L1,-1", "filled": false, "stroke": "#e8302a", "strokeWidth": 1, "size": 160, "opacity": 1}, "encoding": {"x": {"datum": 15.7}, "y": {"datum": 10.799}}}
]
},
{
"data": {"name": "ch1"},
"layer": [
{"mark": {"type": "line", "color": "#3c4fa8", "strokeWidth": 1.1}, "encoding": {"x": {"field": "t", "type": "quantitative", "scale": {"domain": [-63.906, 143.281], "nice": false, "zero": false}}, "y": {"field": "v", "type": "quantitative", "scale": {"domain": [-9.055, 14.876], "nice": false, "zero": false}}}},
{"data": {"values": [{}]}, "mark": {"type": "point", "shape": "M-1,-1L1,1M-1,1L1,-1", "filled": false, "stroke": "#3c4fa8", "strokeWidth": 1, "size": 160, "opacity": 1}, "encoding": {"x": {"datum": 3.9}, "y": {"datum": 1.24}}}
]
}
]
}
